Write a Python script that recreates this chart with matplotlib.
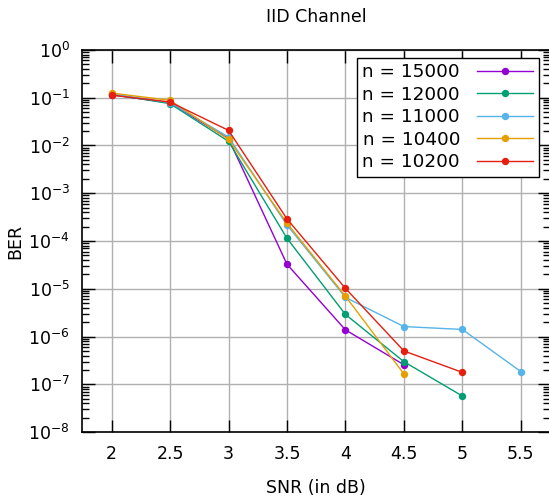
import numpy as np
import matplotlib
matplotlib.use("Agg")
import matplotlib.pyplot as plt

# SNR points (dB) and BER per code length
snr = [2, 2.5, 3, 3.5, 4, 4.5, 5, 5.5]
labels = ["n = 15000", "n = 12000", "n = 11000", "n = 10400", "n = 10200"]
colors = ["#9400D3", "#009E73", "#56B4E9", "#E69F00", "#E51E10"]

ber_15000 = [0.115, 0.078, 0.0139, 3.26e-5, 1.38e-6, 2.57e-7]
ber_12000 = [0.118, 0.075, 0.0122, 1.14e-4, 2.9e-6, 2.98e-7, 5.7e-8]
ber_11000 = [0.12, 0.079, 0.015, 2.16e-4, 6.6e-6, 1.62e-6, 1.41e-6, 1.85e-7]
ber_10400 = [0.125, 0.088, 0.0134, 2.35e-4, 7.0e-6, 1.65e-7]
ber_10200 = [0.113, 0.081, 0.0207, 2.9e-4, 1.02e-5, 5.0e-7, 1.78e-7]

series = [ber_15000, ber_12000, ber_11000, ber_10400, ber_10200]

plt.rcParams['font.family'] = ['DejaVu Sans']
fig = plt.figure(figsize=(5.49, 4.99), dpi=100)
ax = fig.add_axes([0.150, 0.134, 0.852, 0.766])

for lab, col, ber in zip(labels, colors, series):
    ax.plot(snr[:len(ber)], ber, color=col, lw=1.0, marker="o", ms=4.3,
            label=lab, zorder=3)

ax.set_yscale("log")
ax.set_xlim(1.75, 5.75)
ax.set_ylim(1e-8, 1)
ax.set_xticks([2, 2.5, 3, 3.5, 4, 4.5, 5, 5.5])
ax.set_xticklabels(["2", "2.5", "3", "3.5", "4", "4.5", "5", "5.5"])
ax.set_yticks([10.0 ** k for k in range(-8, 1)])
ax.yaxis.set_minor_locator(matplotlib.ticker.LogLocator(base=10, subs=np.arange(2, 10), numticks=20))
ax.yaxis.set_minor_formatter(matplotlib.ticker.NullFormatter())

ax.grid(True, which="major", color="#b0b0b0", lw=1.0)
ax.tick_params(which="both", direction="in", top=True, right=True, labelsize=12.5, pad=9)
ax.tick_params(which="major", length=9, width=1)
ax.tick_params(which="minor", length=5, width=1)
for s in ax.spines.values():
    s.set_linewidth(1.2)

ax.set_title("IID Channel", fontsize=12.5, pad=20)
ax.set_xlabel("SNR (in dB)", fontsize=12.5, labelpad=12)
ax.set_ylabel("BER", fontsize=12.5, labelpad=3)

leg = ax.legend(loc="upper right", bbox_to_anchor=(0.976, 0.979), markerfirst=False,
                fontsize=13.2, fancybox=False, framealpha=1, edgecolor="black",
                handlelength=3.1, borderpad=0.3, labelspacing=0.24, handletextpad=0.9,
                borderaxespad=0.0)
leg.get_frame().set_linewidth(1.0)

fig.savefig("out.png", dpi=100)
